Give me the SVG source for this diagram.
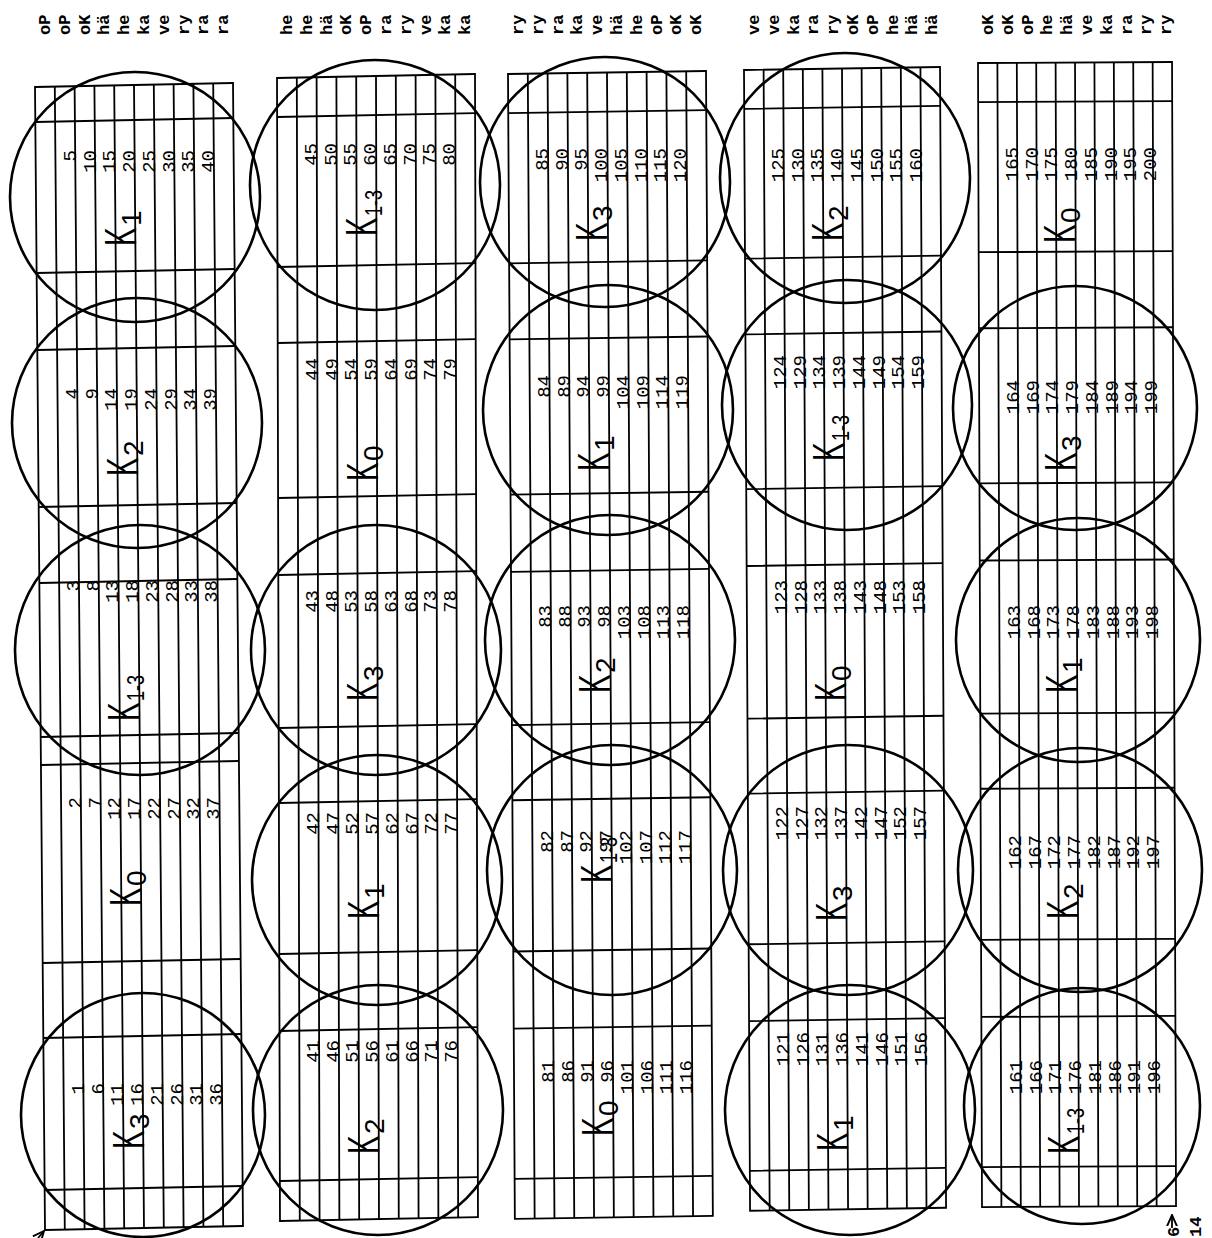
<svg xmlns="http://www.w3.org/2000/svg" width="1212" height="1238" viewBox="0 0 1212 1238">
<style>
.g{stroke:#000;stroke-width:1.8;fill:none}
.c{stroke:#000;stroke-width:2.6;fill:none}
.h{font-family:"Liberation Mono",monospace;font-size:17px;font-weight:bold}
.n{font-family:"Liberation Mono",monospace;font-size:19px;text-anchor:end}
.k{font-family:"Liberation Sans",Arial,sans-serif;font-size:45px}
.s{font-family:"Liberation Sans",Arial,sans-serif;font-size:28px}
.s3{font-family:"Liberation Sans",Arial,sans-serif;font-size:24px}
</style>
<defs>
<g id="lanes"><rect x="0" y="0" width="198" height="1143"/><path d="M19.8 0V1143M39.6 0V1143M59.4 0V1143M79.2 0V1143M99 0V1143M118.8 0V1143M138.6 0V1143M158.4 0V1143M178.2 0V1143"/></g>
<marker id="ah" viewBox="0 0 10 10" refX="9" refY="5" markerWidth="7" markerHeight="7" orient="auto"><path d="M0 1L9 5L0 9" fill="none" stroke="#000" stroke-width="1.5"/></marker>
</defs>
<rect width="1212" height="1238" fill="#fff"/>

<!-- grids -->
<g id="grid1" class="g" transform="matrix(1,-0.0202,0.00875,1,35,87)"><use href="#lanes"/><path d="M0 35H198M0 186H198M0 263H198M0 420H198M0 496H198M0 650H198M0 678H198M0 876H198M0 951H198M0 1103H198"/></g>
<g id="grid2" class="g" transform="matrix(1,-0.02,0.0026,1,277,78)"><use href="#lanes"/><path d="M0 39H198M0 189H198M0 265H198M0 420H198M0 497H198M0 650H198M0 725H198M0 876H198M0 953H198M0 1103H198"/></g>
<g id="grid3" class="g" transform="matrix(1,-0.015,0.006,1.0017,508,74)"><use href="#lanes"/><path d="M0 39H198M0 189H198M0 265H198M0 420H198M0 497H198M0 650H198M0 725H198M0 876H198M0 953H198M0 1103H198"/></g>
<g id="grid4" class="g" transform="matrix(0.99,-0.015,0.0053,0.998,744,70)"><use href="#lanes"/><path d="M0 39H198M0 189H198M0 265H198M0 420H198M0 497H198M0 650H198M0 725H198M0 876H198M0 953H198M0 1103H198"/></g>
<g id="grid5" class="g" transform="matrix(0.98,-0.005,0.0035,1.001,978,63)"><use href="#lanes"/><path d="M0 39H198M0 189H198M0 265H198M0 420H198M0 497H198M0 650H198M0 725H198M0 876H198M0 953H198M0 1103H198"/></g>

<!-- circles -->
<g id="circles" class="c">
<circle cx="135" cy="197" r="125"/><circle cx="137" cy="423" r="125"/><circle cx="140" cy="650" r="125"/><circle cx="143" cy="1115" r="122"/>
<circle cx="375" cy="185" r="125"/><circle cx="376" cy="650" r="125"/><circle cx="377" cy="880" r="125"/><circle cx="378" cy="1110" r="125"/>
<circle cx="605" cy="182" r="125"/><circle cx="608" cy="410" r="125"/><circle cx="610" cy="640" r="125"/><circle cx="612" cy="870" r="125"/>
<circle cx="845" cy="178" r="125"/><circle cx="847" cy="405" r="125"/><circle cx="848" cy="870" r="125"/><circle cx="850" cy="1110" r="125"/>
<circle cx="1075" cy="408" r="122"/><circle cx="1078" cy="640" r="122"/><circle cx="1080" cy="870" r="122"/><circle cx="1082" cy="1106" r="118"/>
</g>

<!-- strip 1 texts -->
<g id="strip1" transform="translate(35,0)">
<g class="h"><text transform="translate(15,35)rotate(-90)">oP</text><text transform="translate(34.8,35)rotate(-90)">oP</text><text transform="translate(54.6,35)rotate(-90)">oK</text><text transform="translate(74.4,35)rotate(-90)">hä</text><text transform="translate(94.2,35)rotate(-90)">he</text><text transform="translate(114,35)rotate(-90)">ka</text><text transform="translate(133.8,35)rotate(-90)">ve</text><text transform="translate(153.6,35)rotate(-90)">ry</text><text transform="translate(173.4,35)rotate(-90)">ra</text><text transform="translate(193.2,35)rotate(-90)">ra</text></g>
<g class="n" transform="translate(2,150)"><text transform="translate(39,0)rotate(-90)">5</text><text transform="translate(59,0)rotate(-90)">10</text><text transform="translate(78,0)rotate(-90)">15</text><text transform="translate(98,0)rotate(-90)">20</text><text transform="translate(118,0)rotate(-90)">25</text><text transform="translate(138,0)rotate(-90)">30</text><text transform="translate(157,0)rotate(-90)">35</text><text transform="translate(177,0)rotate(-90)">40</text></g>
<g class="n" transform="translate(4,388)"><text transform="translate(39,0)rotate(-90)">4</text><text transform="translate(59,0)rotate(-90)">9</text><text transform="translate(78,0)rotate(-90)">14</text><text transform="translate(98,0)rotate(-90)">19</text><text transform="translate(118,0)rotate(-90)">24</text><text transform="translate(138,0)rotate(-90)">29</text><text transform="translate(157,0)rotate(-90)">34</text><text transform="translate(177,0)rotate(-90)">39</text></g>
<g class="n" transform="translate(5,580)"><text transform="translate(39,0)rotate(-90)">3</text><text transform="translate(59,0)rotate(-90)">8</text><text transform="translate(78,0)rotate(-90)">13</text><text transform="translate(98,0)rotate(-90)">18</text><text transform="translate(118,0)rotate(-90)">23</text><text transform="translate(138,0)rotate(-90)">28</text><text transform="translate(157,0)rotate(-90)">33</text><text transform="translate(177,0)rotate(-90)">38</text></g>
<g class="n" transform="translate(7,797)"><text transform="translate(39,0)rotate(-90)">2</text><text transform="translate(59,0)rotate(-90)">7</text><text transform="translate(78,0)rotate(-90)">12</text><text transform="translate(98,0)rotate(-90)">17</text><text transform="translate(118,0)rotate(-90)">22</text><text transform="translate(138,0)rotate(-90)">27</text><text transform="translate(157,0)rotate(-90)">32</text><text transform="translate(177,0)rotate(-90)">37</text></g>
<g class="n" transform="translate(10,1083)"><text transform="translate(39,0)rotate(-90)">1</text><text transform="translate(59,0)rotate(-90)">6</text><text transform="translate(78,0)rotate(-90)">11</text><text transform="translate(98,0)rotate(-90)">16</text><text transform="translate(118,0)rotate(-90)">21</text><text transform="translate(138,0)rotate(-90)">26</text><text transform="translate(157,0)rotate(-90)">31</text><text transform="translate(177,0)rotate(-90)">36</text></g>
<text class="k" transform="translate(101,246)rotate(-90)scale(.62,1)">K</text><text class="s" transform="translate(106,226)rotate(-90)">1</text>
<text class="k" transform="translate(103,476)rotate(-90)scale(.62,1)">K</text><text class="s" transform="translate(108,456)rotate(-90)">2</text>
<text class="k" transform="translate(104,721)rotate(-90)scale(.62,1)">K</text><text class="s3" transform="translate(109,701)rotate(-90)scale(.75,1)">1-3</text>
<text class="k" transform="translate(106,906)rotate(-90)scale(.62,1)">K</text><text class="s" transform="translate(111,886)rotate(-90)">0</text>
<text class="k" transform="translate(109,1149)rotate(-90)scale(.62,1)">K</text><text class="s" transform="translate(114,1129)rotate(-90)">3</text>
</g>

<!-- strip 2 texts -->
<g id="strip2" transform="translate(277,0)">
<g class="h"><text transform="translate(15,35)rotate(-90)">he</text><text transform="translate(34.8,35)rotate(-90)">he</text><text transform="translate(54.6,35)rotate(-90)">hä</text><text transform="translate(74.4,35)rotate(-90)">oK</text><text transform="translate(94.2,35)rotate(-90)">oP</text><text transform="translate(114,35)rotate(-90)">ra</text><text transform="translate(133.8,35)rotate(-90)">ry</text><text transform="translate(153.6,35)rotate(-90)">ve</text><text transform="translate(173.4,35)rotate(-90)">ka</text><text transform="translate(193.2,35)rotate(-90)">ka</text></g>
<g class="n" transform="translate(1,143)"><text transform="translate(39,0)rotate(-90)">45</text><text transform="translate(59,0)rotate(-90)">50</text><text transform="translate(78,0)rotate(-90)">55</text><text transform="translate(98,0)rotate(-90)">60</text><text transform="translate(118,0)rotate(-90)">65</text><text transform="translate(138,0)rotate(-90)">70</text><text transform="translate(157,0)rotate(-90)">75</text><text transform="translate(177,0)rotate(-90)">80</text></g>
<g class="n" transform="translate(2,358)"><text transform="translate(39,0)rotate(-90)">44</text><text transform="translate(59,0)rotate(-90)">49</text><text transform="translate(78,0)rotate(-90)">54</text><text transform="translate(98,0)rotate(-90)">59</text><text transform="translate(118,0)rotate(-90)">64</text><text transform="translate(138,0)rotate(-90)">69</text><text transform="translate(157,0)rotate(-90)">74</text><text transform="translate(177,0)rotate(-90)">79</text></g>
<g class="n" transform="translate(2,590)"><text transform="translate(39,0)rotate(-90)">43</text><text transform="translate(59,0)rotate(-90)">48</text><text transform="translate(78,0)rotate(-90)">53</text><text transform="translate(98,0)rotate(-90)">58</text><text transform="translate(118,0)rotate(-90)">63</text><text transform="translate(138,0)rotate(-90)">68</text><text transform="translate(157,0)rotate(-90)">73</text><text transform="translate(177,0)rotate(-90)">78</text></g>
<g class="n" transform="translate(3,812)"><text transform="translate(39,0)rotate(-90)">42</text><text transform="translate(59,0)rotate(-90)">47</text><text transform="translate(78,0)rotate(-90)">52</text><text transform="translate(98,0)rotate(-90)">57</text><text transform="translate(118,0)rotate(-90)">62</text><text transform="translate(138,0)rotate(-90)">67</text><text transform="translate(157,0)rotate(-90)">72</text><text transform="translate(177,0)rotate(-90)">77</text></g>
<g class="n" transform="translate(3,1040)"><text transform="translate(39,0)rotate(-90)">41</text><text transform="translate(59,0)rotate(-90)">46</text><text transform="translate(78,0)rotate(-90)">51</text><text transform="translate(98,0)rotate(-90)">56</text><text transform="translate(118,0)rotate(-90)">61</text><text transform="translate(138,0)rotate(-90)">66</text><text transform="translate(157,0)rotate(-90)">71</text><text transform="translate(177,0)rotate(-90)">76</text></g>
<text class="k" transform="translate(100,236)rotate(-90)scale(.62,1)">K</text><text class="s3" transform="translate(105,216)rotate(-90)scale(.75,1)">1-3</text>
<text class="k" transform="translate(101,481)rotate(-90)scale(.62,1)">K</text><text class="s" transform="translate(106,461)rotate(-90)">0</text>
<text class="k" transform="translate(101,701)rotate(-90)scale(.62,1)">K</text><text class="s" transform="translate(106,681)rotate(-90)">3</text>
<text class="k" transform="translate(102,919)rotate(-90)scale(.62,1)">K</text><text class="s" transform="translate(107,899)rotate(-90)">1</text>
<text class="k" transform="translate(102,1154)rotate(-90)scale(.62,1)">K</text><text class="s" transform="translate(107,1134)rotate(-90)">2</text>
</g>

<!-- strip 3 texts -->
<g id="strip3" transform="translate(508,0)">
<g class="h"><text transform="translate(15,35)rotate(-90)">ry</text><text transform="translate(34.8,35)rotate(-90)">ry</text><text transform="translate(54.6,35)rotate(-90)">ra</text><text transform="translate(74.4,35)rotate(-90)">ka</text><text transform="translate(94.2,35)rotate(-90)">ve</text><text transform="translate(114,35)rotate(-90)">hä</text><text transform="translate(133.8,35)rotate(-90)">he</text><text transform="translate(153.6,35)rotate(-90)">oP</text><text transform="translate(173.4,35)rotate(-90)">oK</text><text transform="translate(193.2,35)rotate(-90)">oK</text></g>
<g class="n" transform="translate(1,148)"><text transform="translate(39,0)rotate(-90)">85</text><text transform="translate(59,0)rotate(-90)">90</text><text transform="translate(78,0)rotate(-90)">95</text><text transform="translate(98,0)rotate(-90)">100</text><text transform="translate(118,0)rotate(-90)">105</text><text transform="translate(138,0)rotate(-90)">110</text><text transform="translate(157,0)rotate(-90)">115</text><text transform="translate(177,0)rotate(-90)">120</text></g>
<g class="n" transform="translate(3,375)"><text transform="translate(39,0)rotate(-90)">84</text><text transform="translate(59,0)rotate(-90)">89</text><text transform="translate(78,0)rotate(-90)">94</text><text transform="translate(98,0)rotate(-90)">99</text><text transform="translate(118,0)rotate(-90)">104</text><text transform="translate(138,0)rotate(-90)">109</text><text transform="translate(157,0)rotate(-90)">114</text><text transform="translate(177,0)rotate(-90)">119</text></g>
<g class="n" transform="translate(4,605)"><text transform="translate(39,0)rotate(-90)">83</text><text transform="translate(59,0)rotate(-90)">88</text><text transform="translate(78,0)rotate(-90)">93</text><text transform="translate(98,0)rotate(-90)">98</text><text transform="translate(118,0)rotate(-90)">103</text><text transform="translate(138,0)rotate(-90)">108</text><text transform="translate(157,0)rotate(-90)">113</text><text transform="translate(177,0)rotate(-90)">118</text></g>
<g class="n" transform="translate(6,830)"><text transform="translate(39,0)rotate(-90)">82</text><text transform="translate(59,0)rotate(-90)">87</text><text transform="translate(78,0)rotate(-90)">92</text><text transform="translate(98,0)rotate(-90)">97</text><text transform="translate(118,0)rotate(-90)">102</text><text transform="translate(138,0)rotate(-90)">107</text><text transform="translate(157,0)rotate(-90)">112</text><text transform="translate(177,0)rotate(-90)">117</text></g>
<g class="n" transform="translate(7,1060)"><text transform="translate(39,0)rotate(-90)">81</text><text transform="translate(59,0)rotate(-90)">86</text><text transform="translate(78,0)rotate(-90)">91</text><text transform="translate(98,0)rotate(-90)">96</text><text transform="translate(118,0)rotate(-90)">101</text><text transform="translate(138,0)rotate(-90)">106</text><text transform="translate(157,0)rotate(-90)">111</text><text transform="translate(177,0)rotate(-90)">116</text></g>
<text class="k" transform="translate(99,241)rotate(-90)scale(.62,1)">K</text><text class="s" transform="translate(104,221)rotate(-90)">3</text>
<text class="k" transform="translate(101,471)rotate(-90)scale(.62,1)">K</text><text class="s" transform="translate(106,451)rotate(-90)">1</text>
<text class="k" transform="translate(102,693)rotate(-90)scale(.62,1)">K</text><text class="s" transform="translate(107,673)rotate(-90)">2</text>
<text class="k" transform="translate(104,883)rotate(-90)scale(.62,1)">K</text><text class="s3" transform="translate(109,863)rotate(-90)scale(.75,1)">1-3</text>
<text class="k" transform="translate(105,1136)rotate(-90)scale(.62,1)">K</text><text class="s" transform="translate(110,1116)rotate(-90)">0</text>
</g>

<!-- strip 4 texts -->
<g id="strip4" transform="translate(744,0)">
<g class="h"><text transform="translate(15,35)rotate(-90)">ve</text><text transform="translate(34.8,35)rotate(-90)">ve</text><text transform="translate(54.6,35)rotate(-90)">ka</text><text transform="translate(74.4,35)rotate(-90)">ra</text><text transform="translate(94.2,35)rotate(-90)">ry</text><text transform="translate(114,35)rotate(-90)">oK</text><text transform="translate(133.8,35)rotate(-90)">oP</text><text transform="translate(153.6,35)rotate(-90)">he</text><text transform="translate(173.4,35)rotate(-90)">hä</text><text transform="translate(193.2,35)rotate(-90)">hä</text></g>
<g class="n" transform="translate(1,148)"><text transform="translate(39,0)rotate(-90)">125</text><text transform="translate(59,0)rotate(-90)">130</text><text transform="translate(78,0)rotate(-90)">135</text><text transform="translate(98,0)rotate(-90)">140</text><text transform="translate(118,0)rotate(-90)">145</text><text transform="translate(138,0)rotate(-90)">150</text><text transform="translate(157,0)rotate(-90)">155</text><text transform="translate(177,0)rotate(-90)">160</text></g>
<g class="n" transform="translate(3,355)"><text transform="translate(39,0)rotate(-90)">124</text><text transform="translate(59,0)rotate(-90)">129</text><text transform="translate(78,0)rotate(-90)">134</text><text transform="translate(98,0)rotate(-90)">139</text><text transform="translate(118,0)rotate(-90)">144</text><text transform="translate(138,0)rotate(-90)">149</text><text transform="translate(157,0)rotate(-90)">154</text><text transform="translate(177,0)rotate(-90)">159</text></g>
<g class="n" transform="translate(4,580)"><text transform="translate(39,0)rotate(-90)">123</text><text transform="translate(59,0)rotate(-90)">128</text><text transform="translate(78,0)rotate(-90)">133</text><text transform="translate(98,0)rotate(-90)">138</text><text transform="translate(118,0)rotate(-90)">143</text><text transform="translate(138,0)rotate(-90)">148</text><text transform="translate(157,0)rotate(-90)">153</text><text transform="translate(177,0)rotate(-90)">158</text></g>
<g class="n" transform="translate(5,806)"><text transform="translate(39,0)rotate(-90)">122</text><text transform="translate(59,0)rotate(-90)">127</text><text transform="translate(78,0)rotate(-90)">132</text><text transform="translate(98,0)rotate(-90)">137</text><text transform="translate(118,0)rotate(-90)">142</text><text transform="translate(138,0)rotate(-90)">147</text><text transform="translate(157,0)rotate(-90)">152</text><text transform="translate(177,0)rotate(-90)">157</text></g>
<g class="n" transform="translate(6,1032)"><text transform="translate(39,0)rotate(-90)">121</text><text transform="translate(59,0)rotate(-90)">126</text><text transform="translate(78,0)rotate(-90)">131</text><text transform="translate(98,0)rotate(-90)">136</text><text transform="translate(118,0)rotate(-90)">141</text><text transform="translate(138,0)rotate(-90)">146</text><text transform="translate(157,0)rotate(-90)">151</text><text transform="translate(177,0)rotate(-90)">156</text></g>
<text class="k" transform="translate(99,241)rotate(-90)scale(.62,1)">K</text><text class="s" transform="translate(104,221)rotate(-90)">2</text>
<text class="k" transform="translate(100,461)rotate(-90)scale(.62,1)">K</text><text class="s3" transform="translate(105,441)rotate(-90)scale(.75,1)">1-3</text>
<text class="k" transform="translate(102,701)rotate(-90)scale(.62,1)">K</text><text class="s" transform="translate(107,681)rotate(-90)">0</text>
<text class="k" transform="translate(103,921)rotate(-90)scale(.62,1)">K</text><text class="s" transform="translate(108,901)rotate(-90)">3</text>
<text class="k" transform="translate(104,1151)rotate(-90)scale(.62,1)">K</text><text class="s" transform="translate(109,1131)rotate(-90)">1</text>
</g>

<!-- strip 5 texts -->
<g id="strip5" transform="translate(978,0)">
<g class="h"><text transform="translate(15,35)rotate(-90)">oK</text><text transform="translate(34.8,35)rotate(-90)">oK</text><text transform="translate(54.6,35)rotate(-90)">oP</text><text transform="translate(74.4,35)rotate(-90)">he</text><text transform="translate(94.2,35)rotate(-90)">hä</text><text transform="translate(114,35)rotate(-90)">ve</text><text transform="translate(133.8,35)rotate(-90)">ka</text><text transform="translate(153.6,35)rotate(-90)">ra</text><text transform="translate(173.4,35)rotate(-90)">ry</text><text transform="translate(193.2,35)rotate(-90)">ry</text></g>
<g class="n" transform="translate(1,147)"><text transform="translate(39,0)rotate(-90)">165</text><text transform="translate(59,0)rotate(-90)">170</text><text transform="translate(78,0)rotate(-90)">175</text><text transform="translate(98,0)rotate(-90)">180</text><text transform="translate(118,0)rotate(-90)">185</text><text transform="translate(138,0)rotate(-90)">190</text><text transform="translate(157,0)rotate(-90)">195</text><text transform="translate(177,0)rotate(-90)">200</text></g>
<g class="n" transform="translate(2,380)"><text transform="translate(39,0)rotate(-90)">164</text><text transform="translate(59,0)rotate(-90)">169</text><text transform="translate(78,0)rotate(-90)">174</text><text transform="translate(98,0)rotate(-90)">179</text><text transform="translate(118,0)rotate(-90)">184</text><text transform="translate(138,0)rotate(-90)">189</text><text transform="translate(157,0)rotate(-90)">194</text><text transform="translate(177,0)rotate(-90)">199</text></g>
<g class="n" transform="translate(3,605)"><text transform="translate(39,0)rotate(-90)">163</text><text transform="translate(59,0)rotate(-90)">168</text><text transform="translate(78,0)rotate(-90)">173</text><text transform="translate(98,0)rotate(-90)">178</text><text transform="translate(118,0)rotate(-90)">183</text><text transform="translate(138,0)rotate(-90)">188</text><text transform="translate(157,0)rotate(-90)">193</text><text transform="translate(177,0)rotate(-90)">198</text></g>
<g class="n" transform="translate(4,835)"><text transform="translate(39,0)rotate(-90)">162</text><text transform="translate(59,0)rotate(-90)">167</text><text transform="translate(78,0)rotate(-90)">172</text><text transform="translate(98,0)rotate(-90)">177</text><text transform="translate(118,0)rotate(-90)">182</text><text transform="translate(138,0)rotate(-90)">187</text><text transform="translate(157,0)rotate(-90)">192</text><text transform="translate(177,0)rotate(-90)">197</text></g>
<g class="n" transform="translate(5,1060)"><text transform="translate(39,0)rotate(-90)">161</text><text transform="translate(59,0)rotate(-90)">166</text><text transform="translate(78,0)rotate(-90)">171</text><text transform="translate(98,0)rotate(-90)">176</text><text transform="translate(118,0)rotate(-90)">181</text><text transform="translate(138,0)rotate(-90)">186</text><text transform="translate(157,0)rotate(-90)">191</text><text transform="translate(177,0)rotate(-90)">196</text></g>
<text class="k" transform="translate(97,243)rotate(-90)scale(.62,1)">K</text><text class="s" transform="translate(102,223)rotate(-90)">0</text>
<text class="k" transform="translate(98,471)rotate(-90)scale(.62,1)">K</text><text class="s" transform="translate(103,451)rotate(-90)">3</text>
<text class="k" transform="translate(99,693)rotate(-90)scale(.62,1)">K</text><text class="s" transform="translate(104,673)rotate(-90)">1</text>
<text class="k" transform="translate(100,919)rotate(-90)scale(.62,1)">K</text><text class="s" transform="translate(105,899)rotate(-90)">2</text>
<text class="k" transform="translate(101,1154)rotate(-90)scale(.62,1)">K</text><text class="s3" transform="translate(106,1134)rotate(-90)scale(.75,1)">1-3</text>
</g>

<!-- reference arrows -->
<g id="connectors" class="g">
<path d="M1172 1228V1215" marker-end="url(#ah)"/>
<path d="M38 1238L44 1231" marker-end="url(#ah)"/>
</g>
<text class="h" transform="translate(1179,1237)rotate(-90)">6</text>
<text class="h" transform="translate(1201,1237)rotate(-90)">14</text>
</svg>
